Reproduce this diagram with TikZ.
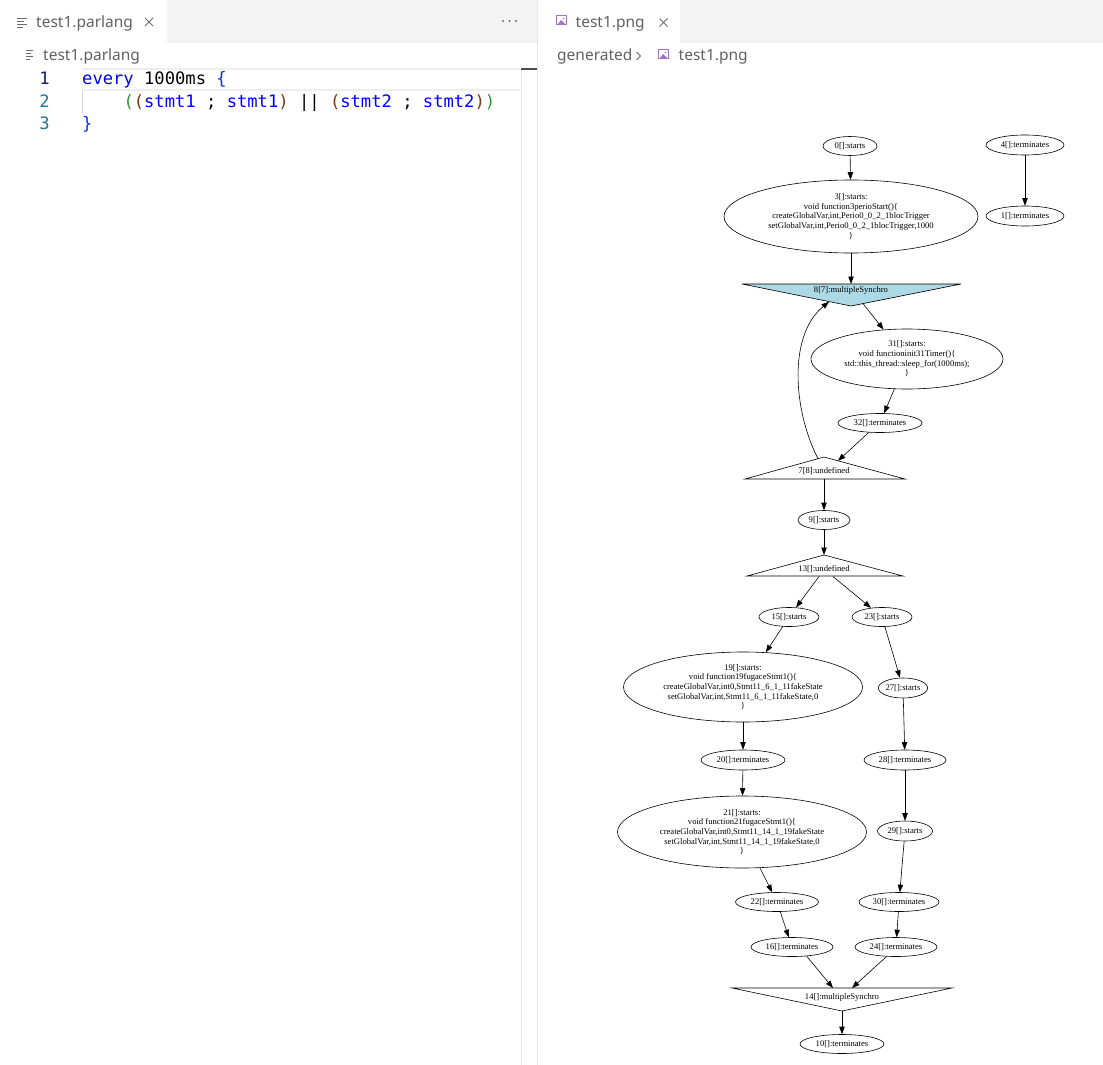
\documentclass[tikz,border=0pt]{standalone}
\usepackage{fontspec}
\setmainfont{Liberation Serif}
\newfontfamily\uifont{Noto Sans}
\newfontfamily\codefont{DejaVu Sans Mono}
\usetikzlibrary{shapes.geometric,arrows.meta}
\definecolor{tabbar}{HTML}{F3F3F3}
\definecolor{divider}{HTML}{E5E5E5}
\definecolor{uigray}{HTML}{616161}
\definecolor{icongray}{HTML}{6C6C6C}
\definecolor{imgpurple}{HTML}{A074C4}
\definecolor{kw}{HTML}{0000FF}
\definecolor{brone}{HTML}{0431FA}
\definecolor{brtwo}{HTML}{319331}
\definecolor{brthree}{HTML}{7B3814}
\definecolor{lnactive}{HTML}{0B216F}
\definecolor{lnother}{HTML}{237893}
\definecolor{curline}{HTML}{EEEEEE}
\definecolor{indentguide}{HTML}{D3D3D3}
\definecolor{gvblue}{HTML}{ADD8E6}
\newcommand{\gvfont}{\fontsize{8.6}{9.7}\selectfont}
\tikzset{
  ui/.style={font=\uifont\fontsize{15.5}{18}\selectfont, text=uigray, inner sep=0pt},
  code/.style={font=\codefont\fontsize{17.15}{22.5}\selectfont\frenchspacing, inner sep=0pt},
  gv/.style={draw=black, ellipse, inner sep=0pt, font=\gvfont, align=center, line width=0.6pt},
  gvarrow/.style={-{Triangle[length=7.5pt,width=5.4pt]}, line width=0.6pt},
  tri/.style={draw=black, line width=0.6pt},
  trilabel/.style={font=\gvfont, inner sep=0pt},
  closex/.style={draw=icongray, line width=0.9pt},
  iconline/.style={draw=icongray, line width=0.9pt},
}
\begin{document}
\begin{tikzpicture}[x=1pt,y=-1pt]
\useasboundingbox (0,0) rectangle (1103,1065);
\fill[white] (0,0) rectangle (1103,1065);
% tab bar
\fill[tabbar] (0,0) rectangle (1103,43);
\fill[white] (0,0) rectangle (167,43);
\fill[white] (538,0) rectangle (680,43);
\draw[divider] (537.5,0) -- (537.5,1065);
% left tab
\foreach \yy/\ll in {18/10,21/7,24/10,27/6} \draw[iconline] (17,\yy) -- ++(\ll,0);
\node[ui, anchor=base west] (tabL) at (36,27.5) {test1.parlang};
\draw[closex] (145,18) -- (153,26) (145,26) -- (153,18);
\fill[icongray] (503,21) circle (1.1) (509.5,21) circle (1.1) (516,21) circle (1.1);
% breadcrumb left
\foreach \yy/\ll in {50.5/7,53.5/5,56.5/7,59.5/4} \draw[iconline, line width=0.8pt] (26,\yy) -- ++(\ll,0);
\node[ui, anchor=base west] (crumbL) at (43,60.5) {test1.parlang};
% right tab
\draw[imgpurple, line width=1pt] (556,16) rectangle (566,25);
\fill[imgpurple] (558,24) -- (561,20) -- (563,22) -- (565,24) -- cycle;
\fill[imgpurple] (563.5,18.5) circle (0.9);
\node[ui, anchor=base west] (tabR) at (575.5,27.5) {test1.png};
\draw[closex] (659.5,18.5) -- (667.5,26.5) (659.5,26.5) -- (667.5,18.5);
% breadcrumb right
\node[ui, anchor=base west] (crumbgen) at (557,60.5) {generated};
\draw[icongray, line width=0.9pt] (636.5,52) -- (640.5,56) -- (636.5,60);
\draw[imgpurple, line width=1pt] (658,50) rectangle (668,59);
\fill[imgpurple] (660,58) -- (663,54) -- (665,56) -- (667,58) -- cycle;
\fill[imgpurple] (665.5,52.5) circle (0.9);
\node[ui, anchor=base west] (crumbR) at (678.5,60.5) {test1.png};
% editor decorations
\draw[curline, line width=2pt] (82,69) -- (520,69) (82,90) -- (520,90);
\draw[indentguide] (82.5,91) -- (82.5,113);
\draw[divider] (521,68) -- (521,1065);
\fill[black!70] (521,68) rectangle (537,70.5);
% line numbers
\node[code, anchor=base east, text=lnactive] (ln1) at (50,84.8) {1};
\node[code, anchor=base east, text=lnother] (ln2) at (50,107.3) {2};
\node[code, anchor=base east, text=lnother] (ln3) at (50,129.8) {3};
% code
\node[code, anchor=base west] (c1) at (82,84.8) {\textcolor{kw}{every} 1000ms \textcolor{brone}{\{}};
\node[code, anchor=base west] (c2) at (123.3,107.3) {\textcolor{brtwo}{(}\textcolor{brthree}{(}\textcolor{kw}{stmt1} ; \textcolor{kw}{stmt1}\textcolor{brthree}{)} || \textcolor{brthree}{(}\textcolor{kw}{stmt2} ; \textcolor{kw}{stmt2}\textcolor{brthree}{)}\textcolor{brtwo}{)}};
\node[code, anchor=base west] (c3) at (82,129.8) {\textcolor{brone}{\}}};

% ---------- graph ----------
\node[gv, minimum width=54pt, minimum height=19pt] (n0) at (850,146) {0[]:starts};
\node[gv, minimum width=78pt, minimum height=20pt] (n4) at (1025,145) {4[]:terminates};
\node[gv, minimum width=78pt, minimum height=20pt] (n1) at (1025,216) {1[]:terminates};
\node[gv, minimum width=254pt, minimum height=73pt] (n3) at (851,216.5) {3[]:starts:\\void function3perioStart()\{\\createGlobalVar,int,Perio0\_0\_2\_1blocTrigger\\setGlobalVar,int,Perio0\_0\_2\_1blocTrigger,1000\\\}};
% triangle 8
\filldraw[tri, fill=gvblue] (742,284) -- (961,284) -- (851,306) -- cycle;
\node[trilabel] (t8) at (851,290.5) {8[7]:multipleSynchro};
\coordinate (t8top) at (851,284);
\coordinate (t8r) at (863,303.6);
\coordinate (t8l) at (829,301.8);
\node[gv, minimum width=192pt, minimum height=60pt] (n31) at (907,359) {31[]:starts:\\void functioninit31Timer()\{\\std::this\_thread::sleep\_for(1000ms);\\\}};
\node[gv, minimum width=84pt, minimum height=19pt] (n32) at (880,423) {32[]:terminates};
% triangle 7
\draw[tri] (824,457) -- (905,479) -- (745,479) -- cycle;
\node[trilabel] (t7) at (824,471.5) {7[8]:undefined};
\coordinate (t7r) at (838,460.8);
\coordinate (t7l) at (818,458.7);
\coordinate (t7bot) at (824,479);
\node[gv, minimum width=52pt, minimum height=19pt] (n9) at (824,520) {9[]:starts};
% triangle 13
\draw[tri] (824,555) -- (903,576) -- (747,576) -- cycle;
\node[trilabel] (t13) at (824,569) {13[]:undefined};
\coordinate (t13top) at (824,555);
\coordinate (t13l) at (819,576.5);
\coordinate (t13r) at (833,576.5);
\node[gv, minimum width=60pt, minimum height=19pt] (n15) at (789,617) {15[]:starts};
\node[gv, minimum width=60pt, minimum height=19pt] (n23) at (882,617) {23[]:starts};
\node[gv, minimum width=239pt, minimum height=70pt] (n19) at (743,687) {19[]:starts:\\void function19fugaceStmt1()\{\\createGlobalVar,int0,Stmt11\_6\_1\_11fakeState\\setGlobalVar,int,Stmt11\_6\_1\_11fakeState,0\\\}};
\node[gv, minimum width=49pt, minimum height=20pt] (n27) at (903,688) {27[]:starts};
\node[gv, minimum width=84pt, minimum height=20pt] (n20) at (743,760) {20[]:terminates};
\node[gv, minimum width=82pt, minimum height=20pt] (n28) at (905,760) {28[]:terminates};
\node[gv, minimum width=249pt, minimum height=72pt] (n21) at (742,832) {21[]:starts:\\void function21fugaceStmt1()\{\\createGlobalVar,int0,Stmt11\_14\_1\_19fakeState\\setGlobalVar,int,Stmt11\_14\_1\_19fakeState,0\\\}};
\node[gv, minimum width=55pt, minimum height=20pt] (n29) at (905,831) {29[]:starts};
\node[gv, minimum width=83pt, minimum height=19pt] (n22) at (777,902) {22[]:terminates};
\node[gv, minimum width=80pt, minimum height=19pt] (n30) at (899,902) {30[]:terminates};
\node[gv, minimum width=82pt, minimum height=19pt] (n16) at (792,947) {16[]:terminates};
\node[gv, minimum width=82pt, minimum height=19pt] (n24) at (896,947) {24[]:terminates};
% triangle 14
\draw[tri] (732,988) -- (952,988) -- (842,1011) -- cycle;
\node[trilabel] (t14) at (842,997) {14[]:multipleSynchro};
\coordinate (t14a) at (833,988);
\coordinate (t14b) at (852,988);
\coordinate (t14bot) at (842,1011);
\node[gv, minimum width=84pt, minimum height=19pt] (n10) at (842,1044) {10[]:terminates};

% edges
\draw[gvarrow] (n0) -- (n3);
\draw[gvarrow] (n4) -- (n1);
\draw[gvarrow] (n3) -- (t8top);
\draw[gvarrow] (t8r) -- (n31);
\draw[gvarrow] (n31) -- (n32);
\draw[gvarrow] (n32.220) -- (t7r);
\draw[gvarrow] (t7l) .. controls (793,410) and (788,335) .. (t8l);
\draw[gvarrow] (t7bot) -- (n9);
\draw[gvarrow] (n9) -- (t13top);
\draw[gvarrow] (t13l) -- (n15);
\draw[gvarrow] (t13r) -- (n23);
\draw[gvarrow] (n15) -- (n19);
\draw[gvarrow] (n23) -- (n27);
\draw[gvarrow] (n19) -- (n20);
\draw[gvarrow] (n27) -- (n28);
\draw[gvarrow] (n20) -- (n21);
\draw[gvarrow] (n28) -- (n29);
\draw[gvarrow] (n21) -- (n22);
\draw[gvarrow] (n29) -- (n30);
\draw[gvarrow] (n22) -- (n16);
\draw[gvarrow] (n30) -- (n24);
\draw[gvarrow] (n16.-32) -- (t14a);
\draw[gvarrow] (n24.-135) -- (t14b);
\draw[gvarrow] (t14bot) -- (n10);
\end{tikzpicture}
\end{document}
